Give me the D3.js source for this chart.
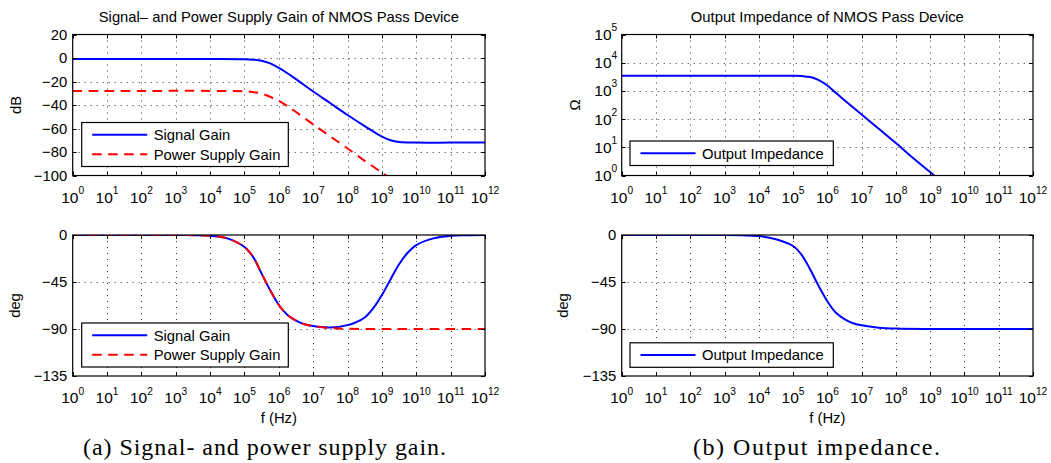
<!DOCTYPE html>
<html>
<head>
<meta charset="utf-8">
<script src="https://cdn.jsdelivr.net/npm/d3@7"></script>
<style>
  body { margin: 0; background: #fff; }
  svg text { font-family: "Liberation Sans", Arial, Helvetica, sans-serif; fill: #000; }
  svg text.caption { font-family: "Liberation Serif", "Times New Roman", serif; }
</style>
</head>
<body>
<svg id="chart" width="1051" height="463"></svg>
<script>
// tick values
const freqDecades = [0, 1, 2, 3, 4, 5, 6, 7, 8, 9, 10, 11, 12];
const gainTicks = [20, 0, -20, -40, -60, -80, -100];
const phaseTicks = [0, -45, -90, -135];
const ohmDecades = [0, 1, 2, 3, 4, 5];

// (a) signal gain, magnitude (Hz, dB)
const sigMagFreq = [1, 1e2, 1e4, 1e5, 1.78e5, 3.16e5, 5.62e5, 1e6, 1.78e6, 3.16e6, 1e7, 3.16e7, 1e8, 3.16e8, 1e9, 1.78e9, 3.16e9, 1e10, 1e11, 1e12];
const sigMagDb = [-0.8, -0.8, -0.8, -1.0, -1.4, -2.3, -4.6, -8.5, -13, -18, -28.5, -38.5, -48.5, -58, -67, -70, -71.5, -72, -72, -72];

// (a) power supply gain, magnitude (Hz, dB)
const psMagFreq = [1, 1e2, 1e4, 1e5, 1.78e5, 3.16e5, 5.62e5, 1e6, 1.78e6, 3.16e6, 1e7, 3.16e7, 1e8, 3.16e8, 1e9, 1.78e9];
const psMagDb = [-28, -28, -28, -28.3, -29, -30.3, -33, -36.5, -41, -46, -56.5, -66.8, -77, -87.5, -97.5, -102.5];

// (a) signal gain, phase (Hz, deg)
const sigPhFreq = [1, 1e1, 1e2, 1e3, 3.16e3, 1e4, 3.16e4, 1e5, 1.78e5, 3.16e5, 5.62e5, 1e6, 1.78e6, 3.16e6, 5.62e6, 1e7, 3.16e7, 1e8, 1.78e8, 3.16e8, 5.62e8, 1e9, 1.78e9, 3.16e9, 5.62e9, 1e10, 3.16e10, 1e11, 3.16e11, 1e12];
const sigPhDeg = [0, 0, 0, 0, -0.2, -0.7, -3.2, -11.5, -21, -37, -53, -67, -76.5, -82, -85.5, -87.2, -88.6, -86.3, -83.5, -79, -70, -57.5, -42.5, -28, -17, -9.6, -3.2, -0.8, -0.2, 0];

// (a) power supply gain, phase (Hz, deg)
const psPhFreq = [1, 1e1, 1e2, 1e3, 3.16e3, 1e4, 3.16e4, 1e5, 1.78e5, 3.16e5, 5.62e5, 1e6, 1.78e6, 3.16e6, 5.62e6, 1e7, 3.16e7, 1e8, 1e9, 1e10, 1e11, 1e12];
const psPhDeg = [0, 0, 0, 0, -0.2, -0.7, -3.2, -11.5, -21, -37, -53, -67, -76.5, -82, -85.5, -87.3, -89.2, -89.75, -90, -90, -90, -90];

// (b) output impedance, magnitude (Hz, ohm)
const zMagFreq = [1, 1e1, 1e2, 1e3, 1e4, 1e5, 1.78e5, 3.16e5, 5.62e5, 1e6, 1.78e6, 3.16e6, 1e7, 3.16e7, 1e8, 3.16e8, 1e9, 1.78e9];
const zMagOhm = [3467, 3467, 3467, 3467, 3467, 3430, 3350, 3090, 2400, 1550, 851, 468, 145, 45.7, 14.1, 4.17, 1.32, 0.74];

// (b) output impedance, phase (Hz, deg)
const zPhFreq = [1, 1e1, 1e2, 1e3, 3.16e3, 1e4, 3.16e4, 1e5, 1.78e5, 3.16e5, 5.62e5, 1e6, 1.78e6, 3.16e6, 5.62e6, 1e7, 3.16e7, 1e8, 1e9, 1e10, 1e11, 1e12];
const zPhDeg = [0, 0, 0, 0, -0.3, -1, -4, -10.5, -19, -33, -49, -63.5, -74.5, -80.5, -84.5, -86.5, -88.7, -89.6, -90, -90, -90, -90];

const svg = d3.select('#chart');
const FONT = 14.8;
const BASE = 15.5; // "10" of the 10^n labels
const SUP = 10.2;
const BLUE = '#0000ff';
const RED = '#ff0000';

const zip = (xs, ys) => xs.map((x, i) => ({ x, y: ys[i] }));

// one set of axes: box, dotted grid, inward ticks, labels, curves, legend
function drawPanel(cfg) {
  const x = d3.scaleLog().domain([1, 1e12]).range(cfg.xRange);
  const y = cfg.yLog
    ? d3.scaleLog().domain([1, 1e5]).range(cfg.yRange)
    : d3.scaleLinear().domain(cfg.yDomain).range(cfg.yRange);
  const [x0, x1] = cfg.xRange;
  const [y1, y0] = cfg.yRange; // y1 = bottom, y0 = top

  const g = svg.append('g');
  const clipId = 'clip' + cfg.id;
  g.append('clipPath').attr('id', clipId)
    .append('rect').attr('x', x0).attr('y', y0).attr('width', x1 - x0).attr('height', y1 - y0);

  const xVals = freqDecades.map((d) => Math.pow(10, d));
  const yVals = cfg.yLog ? ohmDecades.map((d) => Math.pow(10, d)) : cfg.yTicks;

  // dotted grid
  const grid = g.append('g').attr('stroke', '#333').attr('stroke-width', 1).attr('stroke-dasharray', '1,5');
  grid.selectAll('.vg').data(xVals.slice(1, -1)).join('line')
    .attr('x1', (d) => Math.round(x(d)) + 0.5).attr('x2', (d) => Math.round(x(d)) + 0.5)
    .attr('y1', y0).attr('y2', y1);
  grid.selectAll('.hg').data(yVals.slice(1, -1)).join('line')
    .attr('y1', (d) => Math.round(y(d)) + 0.5).attr('y2', (d) => Math.round(y(d)) + 0.5)
    .attr('x1', x0).attr('x2', x1);

  // curves
  const line = d3.line().x((d) => x(d.x)).y((d) => y(d.y)).curve(d3.curveCatmullRom.alpha(0.5));
  cfg.series.forEach((s) => {
    g.append('path')
      .attr('clip-path', `url(#${clipId})`)
      .attr('d', line(s.data))
      .attr('fill', 'none')
      .attr('stroke', s.color)
      .attr('stroke-width', 2)
      .attr('stroke-dasharray', s.dash || null);
  });

  // box + inward ticks
  const tk = 4;
  const ticks = g.append('g').attr('stroke', '#000').attr('stroke-width', 1);
  xVals.forEach((d) => {
    const px = Math.round(x(d)) + 0.5;
    ticks.append('line').attr('x1', px).attr('x2', px).attr('y1', y1).attr('y2', y1 - tk);
    ticks.append('line').attr('x1', px).attr('x2', px).attr('y1', y0).attr('y2', y0 + tk);
  });
  yVals.forEach((d) => {
    const py = Math.round(y(d)) + 0.5;
    ticks.append('line').attr('y1', py).attr('y2', py).attr('x1', x0).attr('x2', x0 + tk);
    ticks.append('line').attr('y1', py).attr('y2', py).attr('x1', x1).attr('x2', x1 - tk);
  });
  g.append('rect')
    .attr('x', x0).attr('y', y0).attr('width', x1 - x0).attr('height', y1 - y0)
    .attr('fill', 'none').attr('stroke', '#000').attr('stroke-width', 1.2);

  // x tick labels 10^n
  freqDecades.forEach((d) => {
    const t = g.append('text')
      .attr('x', x(Math.pow(10, d)))
      .attr('y', y1 + 27)
      .attr('text-anchor', 'middle')
      .style('font-size', BASE + 'px');
    t.append('tspan').text('10');
    t.append('tspan').attr('dy', -8.5).style('font-size', SUP + 'px').text(d);
  });

  // y tick labels
  if (cfg.yLog) {
    ohmDecades.forEach((d) => {
      const t = g.append('text')
        .attr('x', x0 - 4.5)
        .attr('y', y(Math.pow(10, d)) + 5.5)
        .attr('text-anchor', 'end')
        .style('font-size', BASE + 'px');
      t.append('tspan').text('10');
      t.append('tspan').attr('dy', -9).style('font-size', SUP + 'px').text(d);
    });
  } else {
    cfg.yTicks.forEach((d) => {
      g.append('text')
        .attr('x', x0 - 5.5)
        .attr('y', y(d) + 5.3)
        .attr('text-anchor', 'end')
        .style('font-size', FONT + 'px')
        .text(d < 0 ? '\u2212' + Math.abs(d) : d);
    });
  }

  // axis titles
  g.append('text')
    .attr('transform', `translate(${cfg.yLabelX},${(y0 + y1) / 2}) rotate(-90)`)
    .attr('text-anchor', 'middle')
    .style('font-size', FONT + 'px')
    .text(cfg.yLabel);
  if (cfg.xLabel) {
    g.append('text')
      .attr('x', (x0 + x1) / 2).attr('y', y1 + 47)
      .attr('text-anchor', 'middle')
      .style('font-size', FONT + 'px')
      .text(cfg.xLabel);
  }
  if (cfg.title) {
    g.append('text')
      .attr('x', (x0 + x1) / 2).attr('y', y0 - 12.5)
      .attr('text-anchor', 'middle')
      .style('font-size', FONT + 'px')
      .text(cfg.title);
  }

  // legend
  const lg = cfg.legend;
  const leg = g.append('g').attr('transform', `translate(${lg.x},${lg.y})`);
  leg.append('rect')
    .attr('width', lg.w).attr('height', 5 + 19.5 * cfg.series.length)
    .attr('fill', '#fff').attr('stroke', '#000').attr('stroke-width', 1.2);
  cfg.series.forEach((s, i) => {
    const ry = 12.25 + 19.5 * i;
    leg.append('line')
      .attr('x1', 10.5).attr('x2', 65.5).attr('y1', ry).attr('y2', ry)
      .attr('stroke', s.color).attr('stroke-width', 2)
      .attr('stroke-dasharray', s.dash || null);
    leg.append('text')
      .attr('x', 72).attr('y', ry + 5.3)
      .style('font-size', FONT + 'px')
      .text(s.name);
  });
}

const leftX = [72.7, 485];
const rightX = [621.7, 1033];
const topY = [175.5, 34.5];
const botY = [376, 235];
const DASH = '9.5,6.5';

drawPanel({
  id: 'a1', xRange: leftX, yRange: topY, yDomain: [-100, 20], yTicks: gainTicks,
  yLabel: 'dB', yLabelX: 21,
  title: 'Signal\u2013 and Power Supply Gain of NMOS Pass Device',
  series: [
    { name: 'Signal Gain', color: BLUE, data: zip(sigMagFreq, sigMagDb) },
    { name: 'Power Supply Gain', color: RED, dash: DASH, data: zip(psMagFreq, psMagDb) },
  ],
  legend: { x: 81.7, y: 122.5, w: 206.6 },
});

drawPanel({
  id: 'a2', xRange: leftX, yRange: botY, yDomain: [-135, 0], yTicks: phaseTicks,
  yLabel: 'deg', yLabelX: 20, xLabel: 'f (Hz)',
  series: [
    { name: 'Signal Gain', color: BLUE, data: zip(sigPhFreq, sigPhDeg) },
    { name: 'Power Supply Gain', color: RED, dash: DASH, data: zip(psPhFreq, psPhDeg) },
  ],
  legend: { x: 81.7, y: 323, w: 206.6 },
});

drawPanel({
  id: 'b1', xRange: rightX, yRange: topY, yLog: true,
  yLabel: '\u03a9', yLabelX: 580,
  title: 'Output Impedance of NMOS Pass Device',
  series: [
    { name: 'Output Impedance', color: BLUE, data: zip(zMagFreq, zMagOhm) },
  ],
  legend: { x: 630, y: 141, w: 203.3 },
});

drawPanel({
  id: 'b2', xRange: rightX, yRange: botY, yDomain: [-135, 0], yTicks: phaseTicks,
  yLabel: 'deg', yLabelX: 568, xLabel: 'f (Hz)',
  series: [
    { name: 'Output Impedance', color: BLUE, data: zip(zPhFreq, zPhDeg) },
  ],
  legend: { x: 630, y: 342.8, w: 203.3 },
});

// sub-figure captions
const captions = [
  { text: '(a) Signal- and power supply gain.', x0: 83, x1: 446 },
  { text: '(b) Output impedance.', x0: 693, x1: 940 },
];
captions.forEach((c) => {
  svg.append('text')
    .attr('class', 'caption')
    .attr('x', c.x0).attr('y', 455)
    .attr('textLength', c.x1 - c.x0)
    .attr('lengthAdjust', 'spacing')
    .style('font-size', '24px')
    .text(c.text);
});
</script>
</body>
</html>
